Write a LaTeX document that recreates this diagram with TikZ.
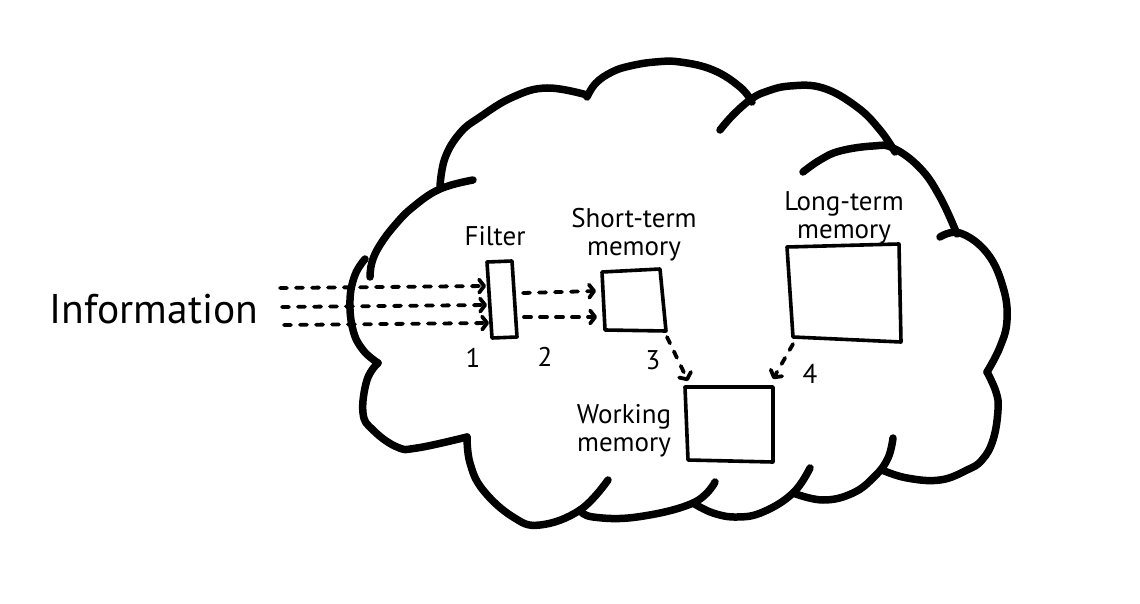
\documentclass[tikz,border=0pt]{standalone}
\usepackage{fontspec}
\setmainfont{PT Sans}
\usetikzlibrary{arrows.meta}

\begin{document}
\begin{tikzpicture}[x=1pt,y=-1pt,
  cloudline/.style={line width=7.5pt, line cap=round, line join=round},
  boxline/.style={line width=3.6pt, line join=round},
  flow/.style={line width=3.8pt, line cap=round, dash pattern=on 7pt off 9pt,
    -{Straight Barb[length=5pt,width=13pt,round]}},
  lbl/.style={font=\fontsize{27}{28}\selectfont, align=center, inner sep=0pt},
  biglbl/.style={font=\fontsize{41.5}{44}\selectfont, inner sep=0pt}
]
\fill[white] (0,0) rectangle (1140,604);
\useasboundingbox (0,0) rectangle (1140,604);

% ---- cloud outline, one stroke per lobe ----
\draw[cloudline] plot[smooth, tension=0.7] coordinates {(370,277) (372,262) (380,245) (395,225) (413,207) (440,189) (473,180)};
\draw[cloudline] plot[smooth, tension=0.7] coordinates {(440,186) (445,158) (460,133) (480,117) (513,97) (547,88) (587,95)};
\draw[cloudline] plot[smooth, tension=0.7] coordinates {(587,97) (596,83) (612,72) (630,66) (655,62) (680,62) (713,70) (740,87) (752,102)};
\draw[cloudline] plot[smooth, tension=0.7] coordinates {(720,130) (733,115) (750,100) (765,92) (790,86) (823,88) (857,107) (880,130) (895,152)};
\draw[cloudline] plot[smooth, tension=0.7] coordinates {(803,172) (820,160) (840,151) (873,146) (893,148) (920,168) (940,197) (957,234)};
\draw[cloudline] plot[smooth, tension=0.7] coordinates {(940,237) (960,233) (987,253) (1003,287) (1007,320) (1000,347) (987,372)};
\draw[cloudline] plot[smooth, tension=0.7] coordinates {(987,372) (996,392) (998,410) (993,440) (982,460) (967,470) (940,480) (907,478) (882,470)};
\draw[cloudline] plot[smooth, tension=0.7] coordinates {(793,493) (823,500) (853,493) (875,476) (888,458) (893,438)};
\draw[cloudline] plot[smooth, tension=0.7] coordinates {(693,503) (713,513) (737,517) (763,512) (793,493) (810,468)};
\draw[cloudline] plot[smooth, tension=0.7] coordinates {(580,510) (593,517) (637,517) (693,503) (715,482)};
\draw[cloudline] plot[smooth, tension=0.7] coordinates {(467,437) (470,463) (483,490) (513,517) (540,525) (580,510) (608,480)};
\draw[cloudline] plot[smooth, tension=0.7] coordinates {(378,363) (367,380) (363,413) (373,430) (397,447) (417,448) (467,437)};
\draw[cloudline] plot[smooth, tension=0.7] coordinates {(365,259) (355,275) (350,300) (353,330) (363,350) (378,363)};

% ---- boxes (corners named) ----
\coordinate (f-tl) at (487,262); \coordinate (f-tr) at (512,261);
\coordinate (f-br) at (517,337); \coordinate (f-bl) at (492,338);
\draw[boxline] (f-tl) -- (f-tr) -- (f-br) -- (f-bl) -- cycle;

\coordinate (s-tl) at (602,272); \coordinate (s-tr) at (660,269);
\coordinate (s-br) at (666,331); \coordinate (s-bl) at (605,330);
\draw[boxline] (s-tl) -- (s-tr) -- (s-br) -- (s-bl) -- cycle;

\coordinate (l-tl) at (787,247); \coordinate (l-tr) at (899,244);
\coordinate (l-br) at (901,342); \coordinate (l-bl) at (793,337);
\draw[boxline] (l-tl) -- (l-tr) -- (l-br) -- (l-bl) -- cycle;

\coordinate (w-tl) at (685,387); \coordinate (w-tr) at (773,387);
\coordinate (w-br) at (773,462); \coordinate (w-bl) at (688,460);
\draw[boxline] (w-tl) -- (w-tr) -- (w-br) -- (w-bl) -- cycle;

% ---- labels ----
\node[biglbl] (info) at (154,309) {Information};
\node[lbl] (filterlbl) at (495,236) {Filter};
\node[lbl] (stmlbl) at (634,235) {Short-term\\memory};
\node[lbl] (ltmlbl) at (844,218) {Long-term\\memory};
\node[lbl] (wmlbl) at (624,431) {Working\\memory};
\node[lbl] (n1) at (473,358) {1};
\node[lbl] (n2) at (545,357) {2};
\node[lbl] (n3) at (653,360) {3};
\node[lbl] (n4) at (810,374) {4};

% ---- flow arrows ----
\coordinate (in1) at (280,288); \coordinate (in1e) at (486,286);
\coordinate (in2) at (282,307); \coordinate (in2e) at (487,305);
\coordinate (in3) at (284,325); \coordinate (in3e) at (489,323);
\draw[flow] (in1) -- (in1e);
\draw[flow] (in2) -- (in2e);
\draw[flow] (in3) -- (in3e);

\coordinate (fo1) at (523,293); \coordinate (si1) at (596,291);
\coordinate (fo2) at (524,317); \coordinate (si2) at (597,317);
\draw[flow] (fo1) -- (si1);
\draw[flow] (fo2) -- (si2);

\coordinate (s-out) at (667,337); \coordinate (w-in1) at (688,381);
\coordinate (l-out) at (793,344); \coordinate (w-in2) at (773,379);
\draw[flow] (s-out) -- (w-in1);
\draw[flow] (l-out) -- (w-in2);
\end{tikzpicture}
\end{document}
